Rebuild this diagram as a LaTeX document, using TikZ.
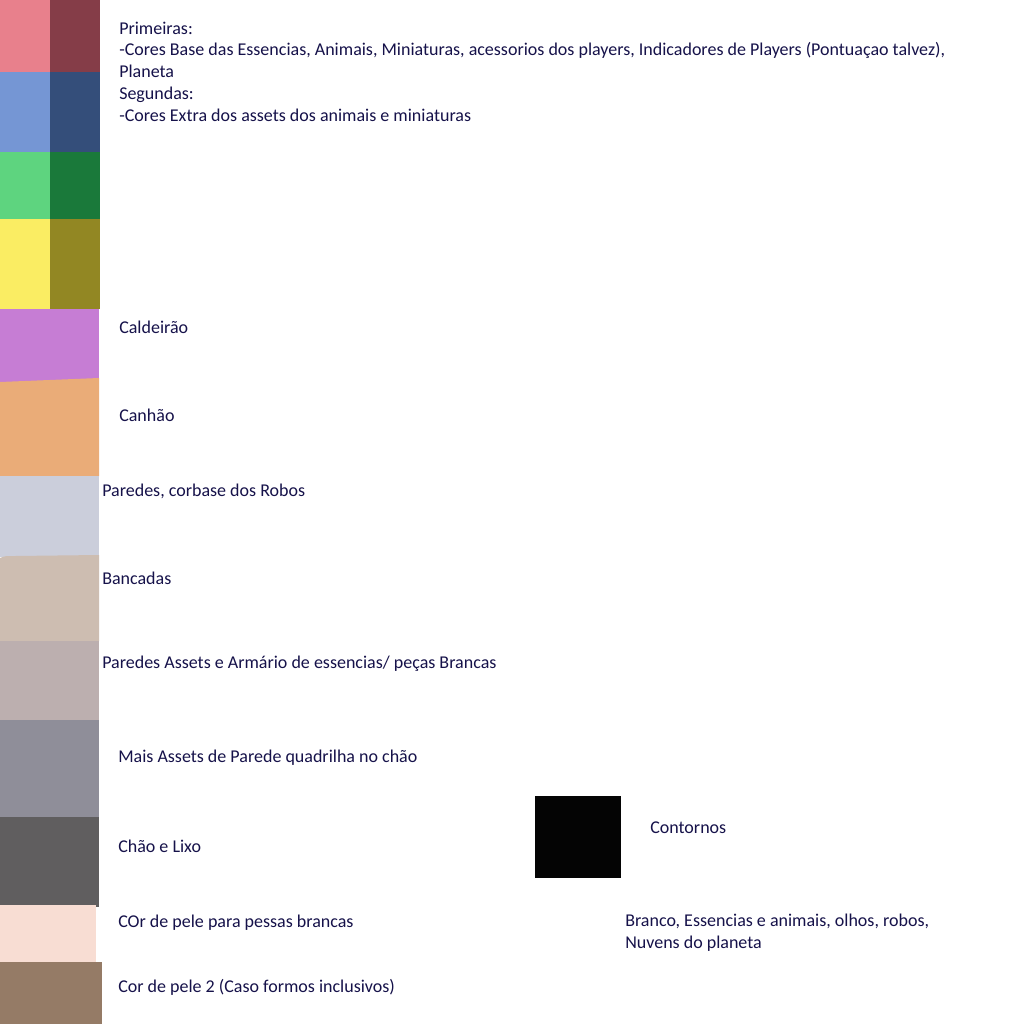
\documentclass[tikz,border=0pt]{standalone}
\usepackage{fontspec}
\setmainfont{Carlito}
\usepackage{tikz}
\usetikzlibrary{positioning}

\definecolor{ink}{HTML}{16124A}
\definecolor{rosaA}{HTML}{E8808C}
\definecolor{rosaB}{HTML}{853D48}
\definecolor{azulA}{HTML}{7596D4}
\definecolor{azulB}{HTML}{344E7A}
\definecolor{verdeA}{HTML}{5ED47F}
\definecolor{verdeB}{HTML}{1A793A}
\definecolor{amareloA}{HTML}{FAED63}
\definecolor{amareloB}{HTML}{928723}
\definecolor{caldeirao}{HTML}{C67DD4}
\definecolor{canhao}{HTML}{EAAC78}
\definecolor{paredes}{HTML}{CBCEDB}
\definecolor{bancadas}{HTML}{CDBDB1}
\definecolor{armario}{HTML}{BCAFAF}
\definecolor{quadrilha}{HTML}{8F8E99}
\definecolor{chao}{HTML}{605E5F}
\definecolor{peleA}{HTML}{F8DDD3}
\definecolor{peleB}{HTML}{957B66}
\definecolor{contorno}{HTML}{040404}

\begin{document}
\begin{tikzpicture}[x=0.75pt,y=-0.75pt,
			lbl/.style={anchor=west, inner sep=0pt, text=ink, font=\fontsize{13.5pt}{16.3pt}\selectfont, align=left}
			]
			\useasboundingbox[fill=white] (0,0) rectangle (1024,1024);

			\fill[rosaA] (0,0) rectangle (50,72);
			\fill[rosaB] (50,0) rectangle (100,72);
			\fill[azulA] (0,72) rectangle (50,152);
			\fill[azulB] (50,72) rectangle (100,152);
			\fill[verdeA] (0,152) rectangle (50,219);
			\fill[verdeB] (50,152) rectangle (100,219);
			\fill[amareloA] (0,219) rectangle (50,309);
			\fill[amareloB] (50,219) rectangle (100,309);
			\fill[caldeirao] (0,309) rectangle (99,383);
			\fill[canhao] (0,382) -- (99,378) -- (99,476) -- (0,476) -- cycle;
			\fill[paredes] (0,476) rectangle (99,557);
			\fill[bancadas] (0,558) .. controls (5,556) .. (15,556) -- (99,555) -- (99,641) -- (0,641) -- cycle;
			\fill[armario] (0,641) rectangle (99,720);
			\fill[quadrilha] (0,720) rectangle (99,817);
			\fill[chao] (0,817) rectangle (99,907);
			\fill[chao] (0,905) rectangle (96,909);
			\fill[peleA] (0,905) rectangle (96,962);
			\fill[peleB] (0,962) rectangle (102,1024);
			\fill[contorno] (535,796) rectangle (621,878);

			\node[lbl, anchor=north west] (primeiras) at (119,21.5) {Primeiras:\\-Cores Base das Essencias, Animais, Miniaturas, acessorios dos players, Indicadores de Players (Pontuaçao talvez),\\Planeta\\Segundas:\\-Cores Extra dos assets dos animais e miniaturas};
			\node[lbl] (caldeiraoL) at (119,327) {Caldeirão};
			\node[lbl] (canhaoL) at (119,415) {Canhão};
			\node[lbl] (paredesL) at (102,491) {Paredes, corbase dos Robos};
			\node[lbl] (bancadasL) at (102,578) {Bancadas};
			\node[lbl] (armarioL) at (102,664) {Paredes Assets e Armário de essencias/ peças Brancas};
			\node[lbl] (quadrilhaL) at (118,758) {Mais Assets de Parede quadrilha no chão};
			\node[lbl] (contornoL) at (650,828) {Contornos};
			\node[lbl] (chaoL) at (118,846) {Chão e Lixo};
			\node[lbl] (peleAL) at (118,923) {COr de pele para pessas brancas};
			\node[lbl, anchor=north west] (brancoL) at (625,914) {Branco, Essencias e animais, olhos, robos,\\Nuvens do planeta};
			\node[lbl] (peleBL) at (118,987) {Cor de pele 2 (Caso formos inclusivos)};
		\end{tikzpicture}
\end{document}
